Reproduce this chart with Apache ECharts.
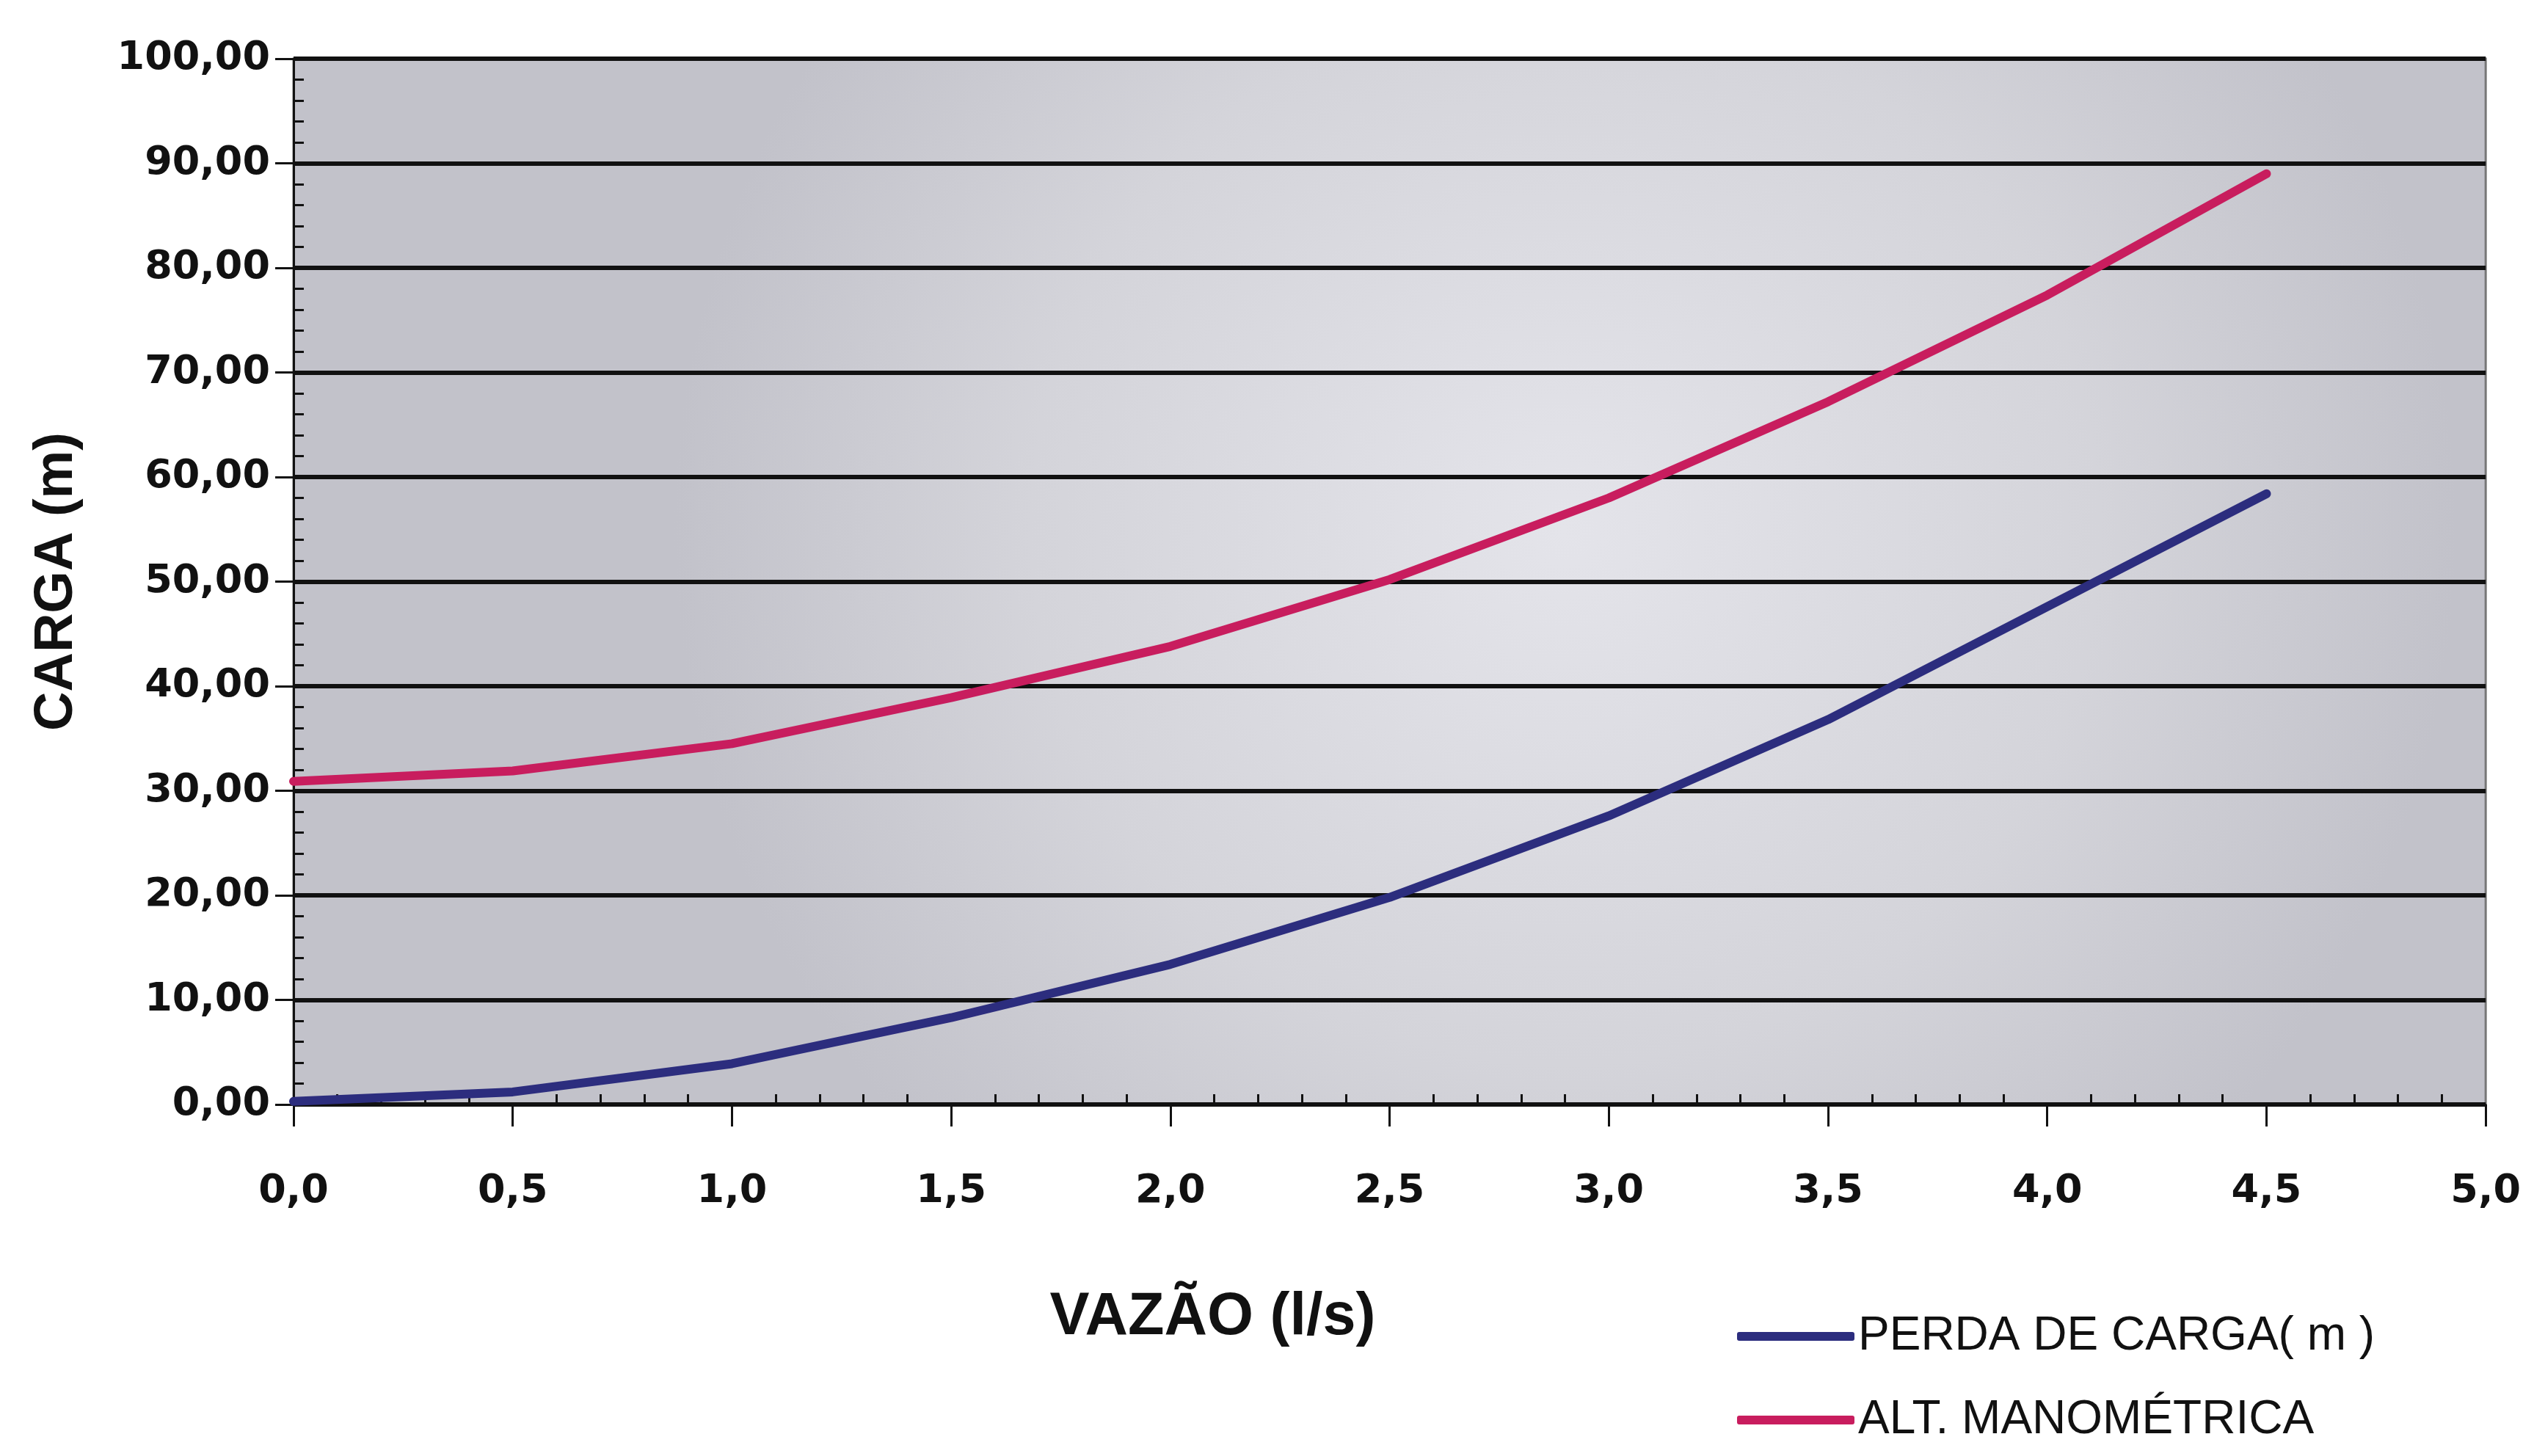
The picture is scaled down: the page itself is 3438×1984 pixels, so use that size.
<!DOCTYPE html>
<html>
<head>
<meta charset="utf-8">
<script src="https://cdn.jsdelivr.net/npm/echarts@6/dist/echarts.min.js"></script>
<style>
html,body{margin:0;padding:0;background:#fff;}
#chart{width:3438px;height:1984px;}
</style>
</head>
<body>
<div id="chart"></div>
<script>
// Data
const vazao = [0.0, 0.5, 1.0, 1.5, 2.0, 2.5, 3.0, 3.5, 4.0, 4.5];
const perdaDeCarga = [0.3, 1.2, 3.9, 8.3, 13.4, 19.8, 27.6, 36.8, 47.6, 58.4];
const altManometrica = [30.9, 31.9, 34.5, 38.9, 43.8, 50.2, 58.0, 67.2, 77.4, 89.0];
const seriesNames = ['PERDA DE CARGA( m )', 'ALT. MANOMÉTRICA'];
const xAxisTitle = 'VAZÃO (l/s)';
const yAxisTitle = 'CARGA (m)';

const pairs = (xs, ys) => xs.map((x, i) => [x, ys[i]]);

const chart = echarts.init(document.getElementById('chart'), null, {renderer: 'canvas'});

const gridLeft = 400, gridTop = 80, gridW = 2995, gridH = 1425;

const labelFont = {fontFamily: 'DejaVu Sans', fontWeight: 'bold', fontSize: 54, color: '#111'};

chart.setOption({
  backgroundColor: '#ffffff',
  animation: false,
  grid: {
    left: gridLeft, top: gridTop, width: gridW, height: gridH,
    show: true,
    borderColor: '#777',
    borderWidth: 3,
    backgroundColor: {
      type: 'radial', x: 0.58, y: 0.45, r: 0.85,
      colorStops: [
        {offset: 0, color: '#e4e4ea'},
        {offset: 0.6, color: '#d4d4da'},
        {offset: 1, color: '#c2c2ca'}
      ]
    }
  },
  legend: {
    orient: 'vertical',
    left: 2362, top: 1783,
    icon: 'roundRect',
    itemWidth: 160, itemHeight: 12,
    itemGap: 48,
    textStyle: {fontFamily: 'Liberation Sans', fontSize: 64, color: '#111', lineHeight: 66, padding: [0,0,0,0]},
    data: seriesNames
  },
  xAxis: [{
    type: 'value', min: 0, max: 5, interval: 0.5,
    position: 'bottom',
    name: xAxisTitle, nameLocation: 'middle', nameGap: 250,
    nameTextStyle: {fontFamily: 'Liberation Sans', fontWeight: 'bold', fontSize: 81, color: '#111', verticalAlign: 'top', padding: [0, 482, 0, 0]},
    axisLine: {show: true, lineStyle: {color: '#111', width: 3}},
    axisTick: {show: true, inside: false, length: 30, lineStyle: {color: '#111', width: 3}},
    minorTick: {show: false},
    splitLine: {show: false},
    axisLabel: Object.assign({margin: 92, formatter: v => v.toFixed(1).replace('.', ',')}, labelFont)
  }, {
    type: 'value', min: 0, max: 5, interval: 0.5,
    position: 'bottom',
    axisLine: {show: false},
    axisTick: {show: false, inside: true},
    minorTick: {show: true, splitNumber: 5, length: 14, lineStyle: {color: '#111', width: 3}},
    splitLine: {show: false},
    axisLabel: {show: false}
  }],
  yAxis: [{
    type: 'value', min: 0, max: 100, interval: 10,
    name: yAxisTitle, nameLocation: 'middle', nameGap: 285, nameRotate: 90,
    nameTextStyle: {fontFamily: 'Liberation Sans', fontWeight: 'bold', fontSize: 74, color: '#111'},
    axisLine: {show: true, lineStyle: {color: '#111', width: 3}},
    axisTick: {show: true, inside: false, length: 25, lineStyle: {color: '#111', width: 3}},
    minorTick: {show: false},
    splitLine: {show: true, lineStyle: {color: '#111', width: 6}},
    axisLabel: Object.assign({margin: 32, formatter: v => v.toFixed(2).replace('.', ',')}, labelFont)
  }, {
    type: 'value', min: 0, max: 100, interval: 10,
    position: 'left',
    axisLine: {show: false},
    axisTick: {show: false, inside: true},
    minorTick: {show: true, splitNumber: 5, length: 14, lineStyle: {color: '#111', width: 3}},
    splitLine: {show: false},
    axisLabel: {show: false}
  }],
  series: [{
    name: seriesNames[0], type: 'line',
    xAxisIndex: 0, yAxisIndex: 0,
    data: pairs(vazao, perdaDeCarga),
    symbol: 'none', smooth: false,
    lineStyle: {color: '#2c2d7e', width: 12, cap: 'round', join: 'round'},
    itemStyle: {color: '#2c2d7e'}
  }, {
    name: seriesNames[1], type: 'line',
    xAxisIndex: 0, yAxisIndex: 0,
    data: pairs(vazao, altManometrica),
    symbol: 'none', smooth: false,
    lineStyle: {color: '#c81d5e', width: 12, cap: 'round', join: 'round'},
    itemStyle: {color: '#c81d5e'}
  }]
});
</script>
</body>
</html>
